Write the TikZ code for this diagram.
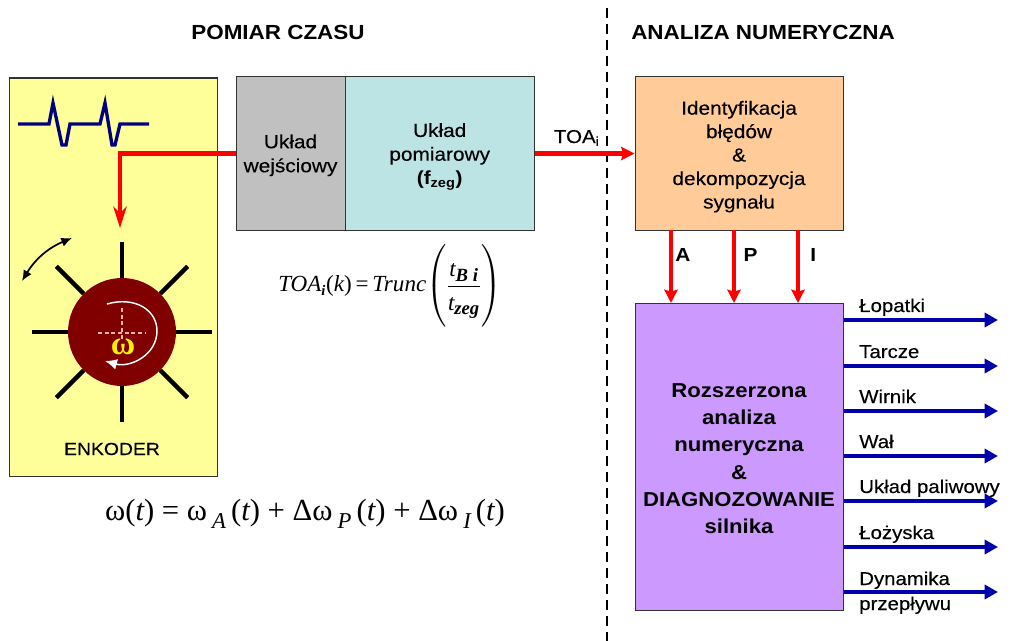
\documentclass[tikz,border=0pt]{standalone}
\usepackage{amsmath}
\usepackage{fontspec}
\setmainfont[FakeStretch=1.1,UprightFeatures={FakeBold=0.25}]{Liberation Sans}
\newfontfamily\tnr{Liberation Serif}
\usepackage{tikz}
\usetikzlibrary{arrows.meta}
\newcommand{\vv}[1]{\mbox{\tnr\itshape #1}}
\newcommand{\rr}[1]{\mbox{\tnr #1}}
\newcommand{\vs}[2]{\mbox{\fontsize{#1}{#1}\selectfont\tnr\bfseries\itshape #2}}
\definecolor{encyellow}{RGB}{255,255,153}
\definecolor{inpgray}{RGB}{192,192,192}
\definecolor{meascyan}{RGB}{188,228,229}
\definecolor{identorange}{RGB}{255,204,153}
\definecolor{rozsviolet}{RGB}{204,153,255}
\definecolor{wheelred}{RGB}{128,0,0}
\definecolor{signalblue}{RGB}{0,0,128}
\definecolor{outblue}{RGB}{0,0,170}
\tikzstyle{block}     = [draw=black!80,line width=0.8pt,anchor=north west,inner sep=0,align=center]
\tikzstyle{head}      = [font=\fontsize{15.3}{18}\bfseries\selectfont]
\tikzstyle{red line}  = [draw=red,line width=3.4pt,-{Stealth[length=10pt,width=10pt,inset=1.5pt]}]
\tikzstyle{blue line} = [draw=outblue,line width=3.3pt,-{Triangle[length=10pt,width=10.5pt]}]
\tikzstyle{spoke}     = [line width=3.2pt]
\tikzstyle{out label} = [anchor=base west,inner sep=0,font=\fontsize{13.9}{18.75}\selectfont,align=left]
\begin{document}
\begin{tikzpicture}[x=0.75pt,y=-0.75pt]
\useasboundingbox (0,0) rectangle (1024,641);

    \node[head] (pomiar) at (278,32) {POMIAR CZASU};
    \node[head] (analiza) at (763,32) {ANALIZA NUMERYCZNA};
    \coordinate (top) at (607,8);
    \coordinate (bottom) at (607,641);
    \draw[line width=2pt,dash pattern=on 7.5pt off 4.5pt] (top) -- (bottom);

    % boxes
    \node[block,fill=encyellow,minimum width=156.5pt,minimum height=298.5pt] (enc) at (8.5,77.5) {};
    \node[block,fill=inpgray,minimum width=81.75pt,minimum height=115.5pt,font=\fontsize{14.2}{18}\selectfont] (inp) at (235.5,76) {\rule{0pt}{13pt}Układ\\wejściowy};
    \node[block,fill=meascyan,minimum width=142pt,minimum height=115.5pt,font=\fontsize{14.2}{17.8}\selectfont] (meas) at (344.5,76) {\rule{0pt}{15pt}Układ\\pomiarowy\\\textbf{(f\textsubscript{zeg})}};
    \node[block,fill=identorange,minimum width=156pt,minimum height=115.5pt,font=\fontsize{14.2}{17.6}\selectfont] (ident) at (634.5,76) {\rule{0pt}{15pt}Identyfikacja\\błędów\\\&\\dekompozycja\\sygnału};
    \node[block,fill=rozsviolet,minimum width=156pt,minimum height=230pt,font=\fontsize{15.1}{20.4}\bfseries\selectfont] (rozs) at (634.5,303) {\rule{0pt}{13pt}Rozszerzona\\analiza\\numeryczna\\\&\\DIAGNOZOWANIE\\silnika};

    % encoder
    \node[circle,fill=wheelred,minimum size=81pt,inner sep=0] (wheel) at (122,332) {};
    \foreach \ang/\len in {0/27,90/27,180/27,270/27,45/29,135/29,225/29,315/29}
        \draw[spoke] (wheel.\ang) -- ++(\ang:\len pt);
    \draw[white!70!red,densely dashed,line width=0.8pt] (98,333) -- (146,333) (122,308) -- (122,340);
    \draw[white,line width=1.1pt,-{Latex[length=9pt,width=8pt]}] (107,304) .. controls (135,296) and (157,310) .. (157,331) .. controls (157,355) and (130,368) .. (105,361);
    \node[text=yellow,font=\fontsize{25}{25}\bfseries\tnr\selectfont,inner sep=0] (omega) at (123,347) {ω};
    \coordinate (swing1) at (22,281);
    \coordinate (swing2) at (72,238);
    \draw[line width=1.3pt,{Latex[length=8pt,width=7pt]}-{Latex[length=8pt,width=7pt]}] (swing1) to[bend left=18] (swing2);
    \draw[signalblue,line width=2.5pt] (18,124) -- (49,124) -- (53,103) -- (62,145) -- (66,145) -- (70,124) -- (100,124) -- (105,103) -- (112,145) -- (115,145) -- (120,124) -- (149,124);
    \node[font=\fontsize{13.2}{15}\selectfont] (enkoder) at (112,449) {ENKODER};

    % connectors
    \coordinate (wave) at (120,228);
    \draw[draw=red,line width=3.2pt,-{Stealth[length=16pt,width=10pt,inset=5pt]}] (inp.west) -- (wave |- inp.west) -- (wave);
    \draw[red line] (meas.east) -- (ident.west) node[pos=0.42,above=3pt,inner sep=1pt,font=\fontsize{14}{16}\selectfont] (toa) {TOA\textsubscript{i}};
    \foreach \name/\xpos/\lbl/\gap in {a/671/A/1.5,p/734/P/5.5,i/798/I/7.5}{
        \coordinate (\name1) at (\xpos,230);
        \coordinate (\name2) at (\xpos,303);
        \draw[red line] (\name1) -- (\name2) node[pos=0.34,right=\gap pt,inner sep=0,font=\fontsize{14.2}{16}\bfseries\selectfont] (lab\name) {\lbl};
    }
    \foreach \i/\ypos/\lbl in {1/320/Łopatki,2/366/Tarcze,3/411/Wirnik,4/456/Wał,5/501/Układ paliwowy,6/547/Łożyska}{
        \coordinate (out\i) at (998,\ypos);
        \draw[blue line] (rozs.east |- out\i) -- (out\i);
        \node[out label] (name\i) at (859,\ypos-8) {\lbl};
    }
    \coordinate (out7) at (998,592);
    \draw[blue line] (rozs.east |- out7) -- (out7);
    \node[out label] (name7) at (859,610) {Dynamika\\przepływu};

    % equations
    \node[inner sep=0,font=\fontsize{17.3}{20}\selectfont] (eqtoa) at (390,286) {$\vv{TOA}_{\vs{11}{i}}\rr{(}\vv{k}\rr{)}\,\rr{=}\,\vv{Trunc}\!\left(\dfrac{\rule[-4pt]{0pt}{12pt}\vv{t}_{\vs{14}{B i}}}{\rule{0pt}{16pt}\vv{t}_{\vs{14}{zeg}}}\rule[-25pt]{0pt}{50pt}\right)$};
    \node[inner sep=0,font=\fontsize{23}{26}\selectfont] (eqomega) at (305,514) {\tnr ω(\vv{t}) = ω\,\raisebox{-6pt}{\fontsize{17}{17}\selectfont\itshape A}\,(\vv{t}) + Δω\,\raisebox{-6pt}{\fontsize{17}{17}\selectfont\itshape P}\,(\vv{t}) + Δω\,\raisebox{-6pt}{\fontsize{17}{17}\selectfont\itshape I}\,(\vv{t})};

\end{tikzpicture}
\end{document}
